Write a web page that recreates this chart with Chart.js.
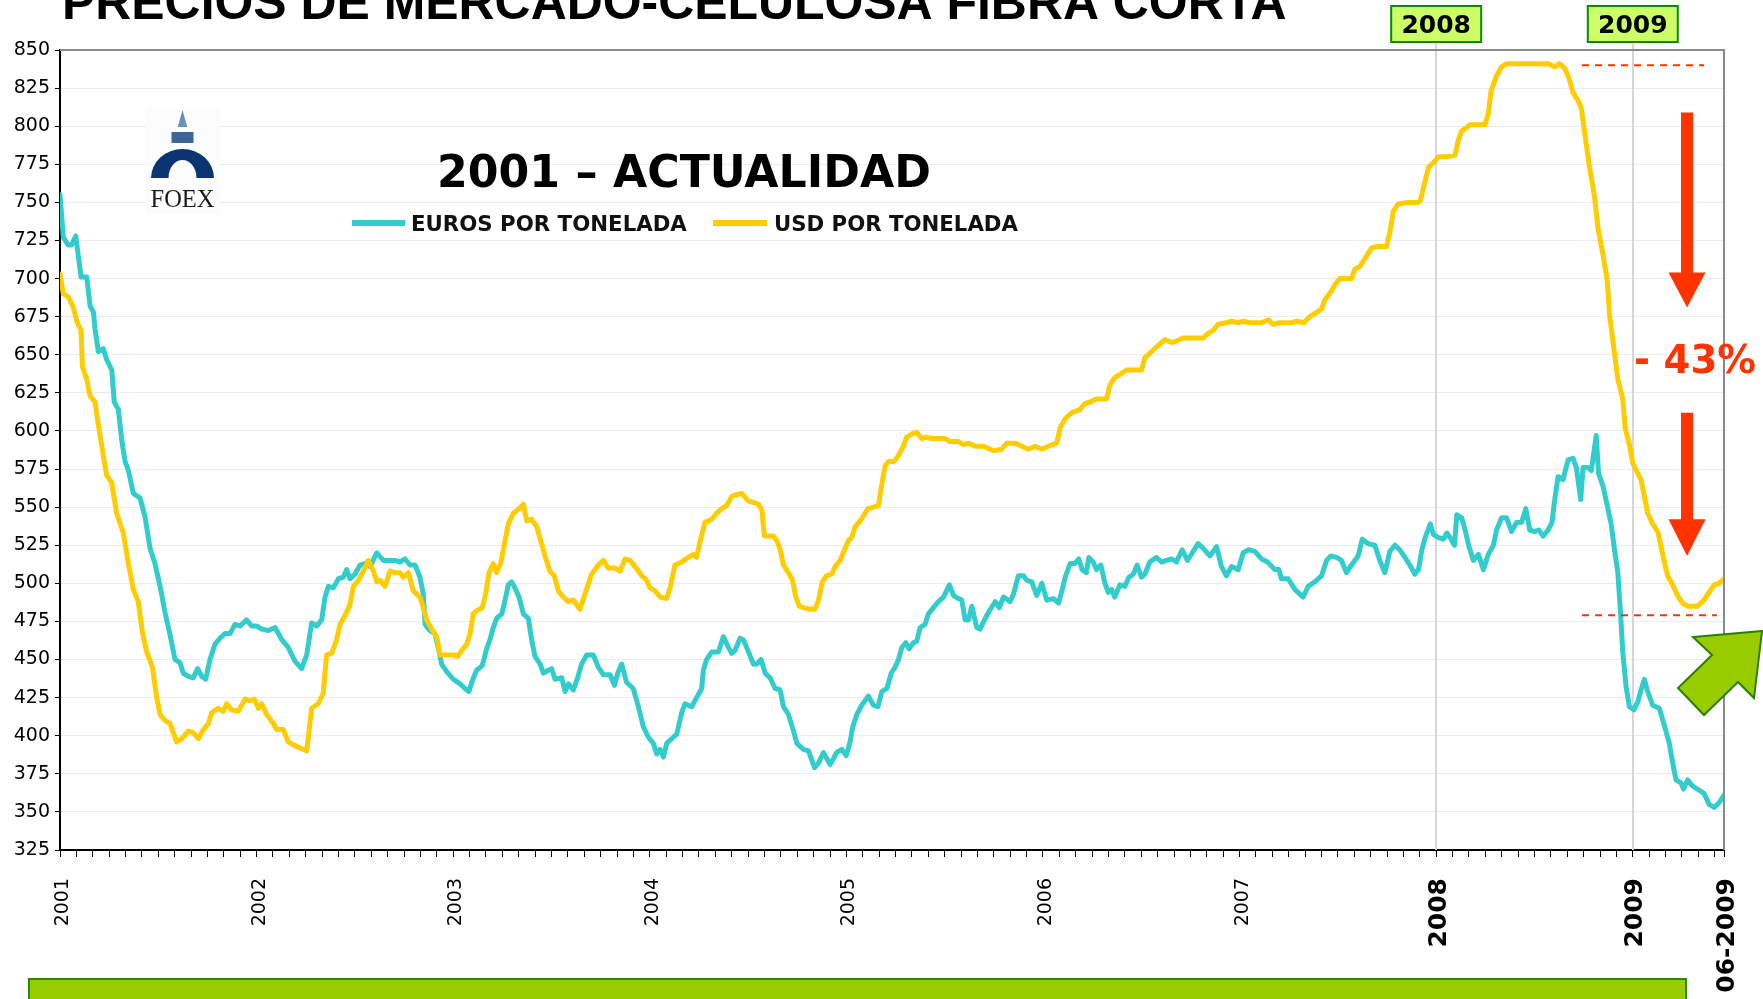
<!DOCTYPE html>
<html lang="es">
<head>
<meta charset="utf-8">
<title>Precios de mercado - celulosa fibra corta</title>
<script src="https://cdn.jsdelivr.net/npm/chart.js@4.4.1/dist/chart.umd.min.js"></script>
<style>
  html, body { margin: 0; padding: 0; background: #fff; }
  #wrap { width: 1763px; height: 999px; position: relative; overflow: hidden; }
</style>
</head>
<body>
<div id="wrap"><canvas id="celulosaChart" width="1763" height="999"></canvas></div>
<script>
const fechasEuro = [
  2001.000, 2001.017, 2001.042, 2001.059, 2001.080, 2001.093, 2001.107, 2001.136, 2001.153, 2001.170,
  2001.178, 2001.195, 2001.220, 2001.237, 2001.263, 2001.276, 2001.297, 2001.314, 2001.331, 2001.348,
  2001.373, 2001.407, 2001.432, 2001.458, 2001.483, 2001.509, 2001.534, 2001.560, 2001.585, 2001.610,
  2001.627, 2001.653, 2001.678, 2001.700, 2001.721, 2001.741, 2001.763, 2001.788, 2001.814, 2001.839,
  2001.865, 2001.890, 2001.916, 2001.949, 2001.975, 2002.000, 2002.026, 2002.060, 2002.094, 2002.128,
  2002.161, 2002.195, 2002.229, 2002.255, 2002.280, 2002.306, 2002.331, 2002.348, 2002.365, 2002.390,
  2002.416, 2002.441, 2002.458, 2002.475, 2002.501, 2002.526, 2002.551, 2002.577, 2002.611, 2002.645,
  2002.679, 2002.704, 2002.729, 2002.755, 2002.780, 2002.806, 2002.831, 2002.848, 2002.857, 2002.882,
  2002.907, 2002.924, 2002.941, 2002.967, 2003.001, 2003.035, 2003.060, 2003.080, 2003.097, 2003.119,
  2003.148, 2003.170, 2003.187, 2003.204, 2003.221, 2003.247, 2003.264, 2003.280, 2003.297, 2003.314,
  2003.335, 2003.357, 2003.382, 2003.399, 2003.416, 2003.442, 2003.459, 2003.484, 2003.501, 2003.518,
  2003.552, 2003.569, 2003.586, 2003.611, 2003.633, 2003.653, 2003.679, 2003.713, 2003.738, 2003.764,
  2003.798, 2003.820, 2003.837, 2003.857, 2003.882, 2003.916, 2003.942, 2003.967, 2003.993, 2004.018,
  2004.035, 2004.052, 2004.069, 2004.086, 2004.111, 2004.137, 2004.162, 2004.179, 2004.213, 2004.238,
  2004.264, 2004.272, 2004.289, 2004.315, 2004.349, 2004.374, 2004.400, 2004.417, 2004.434, 2004.459,
  2004.476, 2004.502, 2004.527, 2004.544, 2004.566, 2004.587, 2004.612, 2004.637, 2004.663, 2004.680,
  2004.705, 2004.731, 2004.748, 2004.782, 2004.807, 2004.838, 2004.858, 2004.883, 2004.917, 2004.951,
  2004.977, 2004.999, 2005.019, 2005.031, 2005.053, 2005.078, 2005.112, 2005.138, 2005.160, 2005.180,
  2005.206, 2005.228, 2005.248, 2005.265, 2005.282, 2005.302, 2005.319, 2005.341, 2005.358, 2005.375,
  2005.400, 2005.417, 2005.443, 2005.468, 2005.494, 2005.524, 2005.545, 2005.570, 2005.587, 2005.604,
  2005.621, 2005.638, 2005.663, 2005.680, 2005.706, 2005.723, 2005.757, 2005.777, 2005.799, 2005.833,
  2005.850, 2005.875, 2005.901, 2005.918, 2005.943, 2005.968, 2005.994, 2006.019, 2006.053, 2006.079,
  2006.096, 2006.113, 2006.138, 2006.163, 2006.182, 2006.199, 2006.221, 2006.233, 2006.255, 2006.272,
  2006.294, 2006.315, 2006.332, 2006.349, 2006.365, 2006.391, 2006.416, 2006.437, 2006.459, 2006.479,
  2006.501, 2006.518, 2006.543, 2006.577, 2006.603, 2006.628, 2006.654, 2006.679, 2006.708, 2006.735,
  2006.764, 2006.789, 2006.815, 2006.849, 2006.883, 2006.908, 2006.933, 2006.959, 2006.993, 2007.018,
  2007.044, 2007.078, 2007.111, 2007.142, 2007.179, 2007.200, 2007.213, 2007.247, 2007.281, 2007.323,
  2007.349, 2007.383, 2007.417, 2007.442, 2007.464, 2007.493, 2007.518, 2007.544, 2007.569, 2007.603,
  2007.624, 2007.654, 2007.688, 2007.713, 2007.739, 2007.764, 2007.790, 2007.815, 2007.841, 2007.866,
  2007.891, 2007.910, 2007.927, 2007.944, 2007.970, 2007.986, 2008.012, 2008.037, 2008.054, 2008.071,
  2008.093, 2008.105, 2008.130, 2008.147, 2008.167, 2008.189, 2008.215, 2008.240, 2008.265, 2008.291,
  2008.307, 2008.333, 2008.358, 2008.383, 2008.409, 2008.434, 2008.456, 2008.476, 2008.502, 2008.522,
  2008.544, 2008.569, 2008.589, 2008.603, 2008.620, 2008.645, 2008.671, 2008.696, 2008.713, 2008.735,
  2008.747, 2008.772, 2008.789, 2008.802, 2008.814, 2008.826, 2008.848, 2008.865, 2008.890, 2008.907,
  2008.924, 2008.937, 2008.949, 2008.966, 2008.983, 2009.005, 2009.025, 2009.042, 2009.059, 2009.076,
  2009.101, 2009.135, 2009.160, 2009.186, 2009.203, 2009.220, 2009.245, 2009.258, 2009.279, 2009.304,
  2009.329, 2009.363, 2009.388, 2009.414, 2009.439, 2009.464
];
const eurosPorTonelada = [
  755, 727, 722, 722, 728, 715, 701, 701, 682, 678,
  667, 652, 654, 647, 640, 619, 614, 594, 580, 574,
  559, 556, 544, 523, 513, 498, 481, 466, 450, 448,
  441, 439, 438, 444, 439, 437, 450, 460, 464, 467,
  467, 473, 472, 476, 472, 472, 470, 469, 471, 463,
  458, 449, 444, 453, 474, 472, 476, 491, 498, 497,
  503, 504, 509, 503, 506, 512, 513, 511, 520, 515,
  515, 515, 514, 516, 512, 512, 504, 493, 473, 469,
  467, 458, 447, 442, 437, 434, 431, 429, 436, 443,
  446, 457, 463, 471, 477, 480, 489, 499, 501, 497,
  491, 480, 477, 463, 452, 447, 441, 443, 444, 437,
  438, 429, 434, 430, 438, 447, 453, 453, 445, 440,
  440, 433, 441, 447, 435, 431, 419, 406, 399, 395,
  388, 391, 386, 395, 398, 401, 415, 421, 419, 425,
  431, 443, 450, 455, 455, 465, 458, 454, 456, 464,
  463, 455, 447, 447, 450, 441, 438, 431, 430, 419,
  414, 403, 395, 391, 390, 379, 382, 389, 381, 389,
  391, 387, 396, 405, 414, 420, 426, 420, 419, 429,
  431, 441, 445, 450, 458, 461, 457, 461, 462, 471,
  473, 480, 484, 488, 491, 499, 492, 490, 489, 476,
  476, 485, 471, 470, 477, 481, 488, 484, 491, 488,
  493, 505, 505, 502, 501, 492, 500, 489, 490, 487,
  495, 504, 513, 513, 516, 509, 507, 517, 514, 509,
  512, 500, 494, 496, 491, 499, 498, 504, 506, 512,
  504, 506, 514, 517, 514, 515, 516, 514, 522, 515,
  521, 526, 523, 518, 524, 511, 505, 511, 509, 520,
  522, 521, 516, 514, 509, 509, 503, 503, 496, 491,
  498, 501, 505, 515, 518, 517, 515, 507, 512, 518,
  529, 526, 525, 515, 507, 521, 525, 522, 517, 512,
  506, 509, 522, 530, 539, 532, 530, 529, 533, 530,
  525, 545, 543, 535, 524, 515, 519, 509, 519, 525,
  535, 543, 543, 534, 540, 540, 549, 535, 534, 535,
  531, 535, 540, 555, 570, 568, 581, 582, 576, 555,
  576, 576, 574, 586, 597, 572, 564, 554, 539, 522,
  507, 482, 455, 432, 419, 417, 422, 430, 437, 429,
  420, 418, 407, 395, 382, 371, 369, 365, 371, 367,
  365, 362, 355, 353, 356, 361
];

const fechasUsd = [
  2001.000, 2001.017, 2001.042, 2001.068, 2001.085, 2001.107, 2001.114, 2001.136, 2001.153, 2001.178,
  2001.195, 2001.220, 2001.237, 2001.263, 2001.288, 2001.322, 2001.348, 2001.373, 2001.398, 2001.419,
  2001.441, 2001.470, 2001.492, 2001.509, 2001.534, 2001.560, 2001.593, 2001.619, 2001.653, 2001.678,
  2001.704, 2001.729, 2001.755, 2001.771, 2001.805, 2001.831, 2001.848, 2001.873, 2001.907, 2001.941,
  2001.966, 2001.988, 2002.009, 2002.026, 2002.051, 2002.085, 2002.102, 2002.136, 2002.161, 2002.187,
  2002.221, 2002.255, 2002.280, 2002.314, 2002.339, 2002.356, 2002.382, 2002.407, 2002.424, 2002.450,
  2002.475, 2002.492, 2002.518, 2002.543, 2002.568, 2002.594, 2002.611, 2002.628, 2002.653, 2002.679,
  2002.704, 2002.729, 2002.746, 2002.772, 2002.797, 2002.831, 2002.848, 2002.865, 2002.891, 2002.916,
  2002.933, 2002.958, 2002.984, 2003.001, 2003.023, 2003.043, 2003.069, 2003.086, 2003.102, 2003.119,
  2003.148, 2003.165, 2003.182, 2003.204, 2003.221, 2003.243, 2003.264, 2003.280, 2003.306, 2003.335,
  2003.357, 2003.374, 2003.399, 2003.425, 2003.450, 2003.467, 2003.492, 2003.514, 2003.535, 2003.560,
  2003.586, 2003.611, 2003.645, 2003.670, 2003.704, 2003.738, 2003.764, 2003.789, 2003.823, 2003.849,
  2003.874, 2003.900, 2003.925, 2003.959, 2003.984, 2004.001, 2004.027, 2004.052, 2004.086, 2004.103,
  2004.128, 2004.162, 2004.196, 2004.221, 2004.238, 2004.255, 2004.281, 2004.315, 2004.340, 2004.366,
  2004.391, 2004.417, 2004.434, 2004.468, 2004.502, 2004.527, 2004.553, 2004.570, 2004.583, 2004.604,
  2004.629, 2004.646, 2004.663, 2004.680, 2004.705, 2004.726, 2004.743, 2004.760, 2004.782, 2004.815,
  2004.841, 2004.858, 2004.878, 2004.900, 2004.926, 2004.943, 2004.968, 2004.994, 2005.010, 2005.027,
  2005.044, 2005.070, 2005.095, 2005.109, 2005.138, 2005.163, 2005.180, 2005.197, 2005.214, 2005.244,
  2005.265, 2005.290, 2005.307, 2005.333, 2005.358, 2005.384, 2005.409, 2005.434, 2005.502, 2005.528,
  2005.570, 2005.595, 2005.621, 2005.655, 2005.697, 2005.748, 2005.790, 2005.816, 2005.858, 2005.892,
  2005.926, 2005.960, 2005.994, 2006.028, 2006.070, 2006.087, 2006.113, 2006.147, 2006.187, 2006.213,
  2006.238, 2006.272, 2006.323, 2006.340, 2006.365, 2006.391, 2006.425, 2006.501, 2006.518, 2006.543,
  2006.577, 2006.620, 2006.654, 2006.679, 2006.713, 2006.815, 2006.840, 2006.866, 2006.891, 2006.933,
  2006.959, 2006.993, 2007.018, 2007.052, 2007.111, 2007.145, 2007.171, 2007.205, 2007.264, 2007.289,
  2007.328, 2007.357, 2007.383, 2007.417, 2007.434, 2007.468, 2007.485, 2007.510, 2007.569, 2007.586,
  2007.612, 2007.637, 2007.671, 2007.696, 2007.747, 2007.764, 2007.781, 2007.807, 2007.857, 2007.908,
  2007.919, 2007.936, 2007.961, 2007.986, 2008.012, 2008.054, 2008.096, 2008.113, 2008.130, 2008.155,
  2008.172, 2008.248, 2008.265, 2008.279, 2008.307, 2008.333, 2008.358, 2008.569, 2008.603, 2008.628,
  2008.654, 2008.674, 2008.696, 2008.721, 2008.738, 2008.755, 2008.780, 2008.806, 2008.823, 2008.848,
  2008.870, 2008.882, 2008.899, 2008.924, 2008.949, 2008.961, 2008.983, 2009.000, 2009.022, 2009.042,
  2009.059, 2009.076, 2009.101, 2009.127, 2009.152, 2009.177, 2009.203, 2009.228, 2009.253, 2009.279,
  2009.329, 2009.363, 2009.388, 2009.414, 2009.439, 2009.464
];
const usdPorTonelada = [
  703, 690, 688, 681, 672, 666, 642, 634, 623, 619,
  604, 584, 571, 566, 546, 533, 513, 496, 488, 468,
  455, 445, 425, 414, 410, 408, 396, 398, 403, 402,
  398, 404, 408, 415, 418, 416, 421, 417, 416, 424,
  423, 424, 418, 421, 414, 408, 404, 404, 396, 394,
  392, 390, 418, 421, 428, 453, 454, 463, 473, 479,
  486, 498, 502, 508, 515, 508, 501, 502, 498, 508,
  507, 507, 504, 507, 495, 491, 484, 476, 470, 465,
  453, 453, 453, 453, 452, 456, 460, 467, 480, 482,
  484, 493, 507, 513, 507, 514, 528, 539, 546, 549,
  552, 541, 542, 537, 526, 518, 508, 505, 495, 491,
  488, 489, 483, 493, 506, 512, 515, 510, 510, 508,
  516, 515, 511, 505, 502, 497, 495, 491, 490, 497,
  512, 514, 517, 519, 517, 527, 540, 542, 546, 549,
  551, 557, 558, 559, 554, 553, 552, 548, 531, 531,
  531, 528, 522, 512, 507, 502, 491, 485, 484, 483,
  483, 489, 501, 505, 506, 511, 515, 523, 528, 530,
  537, 541, 546, 549, 550, 551, 565, 577, 580, 580,
  584, 590, 596, 598, 599, 595, 596, 595, 595, 593,
  593, 591, 592, 590, 590, 587, 588, 592, 592, 590,
  588, 590, 588, 590, 592, 602, 608, 612, 614, 618,
  619, 621, 621, 630, 635, 637, 640, 640, 648, 651,
  655, 660, 658, 659, 661, 661, 664, 666, 670, 671,
  672, 671, 672, 671, 671, 673, 670, 671, 671, 672,
  671, 675, 677, 680, 686, 692, 696, 700, 700, 706,
  708, 713, 720, 721, 721, 730, 744, 749, 750, 750,
  751, 760, 773, 776, 780, 780, 781, 791, 797, 799,
  801, 801, 808, 823, 833, 839, 841, 841, 839, 841,
  838, 832, 822, 817, 812, 796, 773, 753, 733, 716,
  699, 676, 659, 634, 621, 602, 591, 579, 573, 568,
  557, 546, 539, 534, 519, 505, 499, 492, 487, 485,
  485, 489, 494, 499, 500, 503
];

// ejes
const anios = [2001, 2002, 2003, 2004, 2005, 2006, 2007, 2008, 2009];
const aniosDestacados = [2008, 2009];
const fechaFinal = 2009.464;
const etiquetaFinal = '06-2009';
const yMin = 325, yMax = 850, yPaso = 25;

const TEAL = '#33cccc';
const AMARILLO = '#ffcc00';
const ROJO = '#ff3300';

function fitFont(ctx, text, family, weight, width) {
  ctx.font = weight + ' 100px "' + family + '"';
  const w = ctx.measureText(text).width;
  return weight + ' ' + (100 * width / w).toFixed(2) + 'px "' + family + '"';
}

function flechaAbajo(ctx, cx, yTop, yHead, yTip, shaftW, headW) {
  ctx.beginPath();
  ctx.moveTo(cx - shaftW / 2, yTop);
  ctx.lineTo(cx + shaftW / 2, yTop);
  ctx.lineTo(cx + shaftW / 2, yHead);
  ctx.lineTo(cx + headW / 2, yHead);
  ctx.lineTo(cx, yTip);
  ctx.lineTo(cx - headW / 2, yHead);
  ctx.lineTo(cx - shaftW / 2, yHead);
  ctx.closePath();
  ctx.fill();
}

const decoracion = {
  id: 'decoracion',
  beforeDatasetsDraw(chart) {
    const { ctx, chartArea: a, scales: { x } } = chart;
    ctx.save();
    ctx.strokeStyle = '#d6d6d6';
    ctx.lineWidth = 2;
    aniosDestacados.forEach(an => {
      const px = Math.round(x.getPixelForValue(an));
      ctx.beginPath();
      ctx.moveTo(px, 40);
      ctx.lineTo(px, a.bottom);
      ctx.stroke();
    });
    ctx.restore();
  },
  afterDraw(chart) {
    const { ctx, chartArea: a, scales: { x, y } } = chart;
    ctx.save();

    // marco superior y derecho
    ctx.strokeStyle = '#8a8a8a';
    ctx.lineWidth = 2;
    ctx.beginPath();
    ctx.moveTo(a.left, a.top);
    ctx.lineTo(a.right, a.top);
    ctx.lineTo(a.right, a.bottom);
    ctx.stroke();

    // titulo
    ctx.fillStyle = '#000';
    ctx.textBaseline = 'alphabetic';
    ctx.textAlign = 'left';
    const titulo = 'PRECIOS DE MERCADO-CELULOSA FIBRA CORTA';
    ctx.font = fitFont(ctx, titulo, 'Liberation Sans', 'bold', 1225);
    ctx.fillText(titulo, 62, 19);

    const sub = '2001 \u2013 ACTUALIDAD';
    ctx.font = fitFont(ctx, sub, 'DejaVu Sans', 'bold', 494);
    ctx.fillText(sub, 437, 187);

    // leyenda
    ctx.lineWidth = 6;
    ctx.strokeStyle = TEAL;
    ctx.beginPath(); ctx.moveTo(352, 223); ctx.lineTo(405, 223); ctx.stroke();
    ctx.strokeStyle = AMARILLO;
    ctx.beginPath(); ctx.moveTo(713, 223); ctx.lineTo(767, 223); ctx.stroke();
    ctx.fillStyle = '#111';
    ctx.font = fitFont(ctx, 'EUROS POR TONELADA', 'DejaVu Sans', 'bold', 276);
    ctx.fillText('EUROS POR TONELADA', 411, 231);
    ctx.font = fitFont(ctx, 'USD POR TONELADA', 'DejaVu Sans', 'bold', 244);
    ctx.fillText('USD POR TONELADA', 774, 231);

    // logo FOEX
    const lx = 182.5;
    ctx.fillStyle = '#fcfcfc';
    ctx.fillRect(146, 108, 74, 106);
    ctx.fillStyle = '#6b8fbd';
    ctx.beginPath();
    ctx.moveTo(lx, 110); ctx.lineTo(lx + 4.8, 127); ctx.lineTo(lx - 4.8, 127);
    ctx.closePath(); ctx.fill();
    ctx.fillStyle = '#3e6597';
    ctx.fillRect(lx - 11, 132, 22, 11);
    ctx.fillStyle = '#0b3572';
    ctx.beginPath();
    ctx.ellipse(lx, 178, 31.5, 29, 0, Math.PI, 2 * Math.PI);
    ctx.lineTo(lx + 14, 178);
    ctx.ellipse(lx, 178, 14, 18, 0, 0, Math.PI, true);
    ctx.closePath();
    ctx.fill();
    ctx.fillStyle = '#1a1a1a';
    ctx.textAlign = 'center';
    ctx.font = fitFont(ctx, 'FOEX', 'Liberation Serif', 'normal', 64);
    ctx.fillText('FOEX', lx, 207);

    // cajas de año
    aniosDestacados.forEach(an => {
      const px = x.getPixelForValue(an);
      ctx.fillStyle = '#ccff66';
      ctx.fillRect(px - 45, 6, 90, 36);
      ctx.strokeStyle = '#0a8a0a';
      ctx.lineWidth = 2;
      ctx.strokeRect(px - 45, 6, 90, 36);
      ctx.fillStyle = '#000';
      ctx.font = 'bold 25px "DejaVu Sans"';
      ctx.textAlign = 'center';
      ctx.fillText(String(an), px, 33);
    });

    // lineas rojas punteadas
    ctx.strokeStyle = ROJO;
    ctx.lineWidth = 2;
    ctx.setLineDash([7, 6]);
    ctx.beginPath();
    ctx.moveTo(x.getPixelForValue(2008.742), y.getPixelForValue(840));
    ctx.lineTo(x.getPixelForValue(2009.362), y.getPixelForValue(840));
    ctx.moveTo(x.getPixelForValue(2008.742), y.getPixelForValue(479));
    ctx.lineTo(x.getPixelForValue(2009.428), y.getPixelForValue(479));
    ctx.stroke();
    ctx.setLineDash([]);

    // flechas rojas
    ctx.fillStyle = ROJO;
    const fx = x.getPixelForValue(2009.276);
    flechaAbajo(ctx, fx, y.getPixelForValue(809), y.getPixelForValue(704), y.getPixelForValue(681), 12, 37);
    flechaAbajo(ctx, fx, y.getPixelForValue(612), y.getPixelForValue(542), y.getPixelForValue(518), 12, 37);

    ctx.textAlign = 'left';
    ctx.font = fitFont(ctx, '- 43%', 'DejaVu Sans', 'bold', 122);
    ctx.fillText('- 43%', 1634, y.getPixelForValue(638));

    // flecha verde
    const r = a.right;
    ctx.fillStyle = '#99cc00';
    ctx.strokeStyle = '#2a7f00';
    ctx.lineWidth = 2;
    ctx.beginPath();
    ctx.moveTo(r + 38, 631);
    ctx.lineTo(r - 31, 637);
    ctx.lineTo(r - 12, 655);
    ctx.lineTo(r - 46, 688);
    ctx.lineTo(r - 20, 715);
    ctx.lineTo(r + 14, 682);
    ctx.lineTo(r + 30, 698);
    ctx.closePath();
    ctx.fill();
    ctx.stroke();

    // barra verde inferior
    ctx.fillStyle = '#99cc00';
    ctx.fillRect(29, 979, 1657, 24);
    ctx.strokeStyle = '#2a8a00';
    ctx.strokeRect(29, 979, 1657, 24);

    ctx.restore();
  }
};

function fuenteX(c) {
  const v = c.tick ? c.tick.value : 0;
  if (v > 2007.5) return { family: 'DejaVu Sans', size: 25, weight: 'bold' };
  return { family: 'DejaVu Sans', size: 19, weight: 'normal' };
}

document.addEventListener('DOMContentLoaded', function () {
  const ctx = document.getElementById('celulosaChart').getContext('2d');
  const euros = fechasEuro.map((f, i) => ({ x: f, y: eurosPorTonelada[i] }));
  const usd = fechasUsd.map((f, i) => ({ x: f, y: usdPorTonelada[i] }));

  new Chart(ctx, {
    type: 'line',
    data: {
      datasets: [
        { label: 'USD POR TONELADA', data: usd, borderColor: AMARILLO, borderWidth: 5,
          pointRadius: 0, tension: 0, borderJoinStyle: 'round', borderCapStyle: 'round', order: 0 },
        { label: 'EUROS POR TONELADA', data: euros, borderColor: TEAL, borderWidth: 5,
          pointRadius: 0, tension: 0, borderJoinStyle: 'round', borderCapStyle: 'round', order: 1 }
      ]
    },
    options: {
      responsive: false,
      animation: false,
      devicePixelRatio: 1,
      layout: { padding: { top: 50, right: 39, left: 0, bottom: 0 } },
      plugins: { legend: { display: false }, tooltip: { enabled: false } },
      scales: {
        x: {
          type: 'linear',
          min: anios[0],
          max: fechaFinal,
          afterBuildTicks(scale) {
            const ticks = [];
            for (let m = 0; anios[0] + m / 12 < fechaFinal - 0.01; m++) ticks.push({ value: anios[0] + m / 12 });
            ticks.push({ value: fechaFinal });
            scale.ticks = ticks;
          },
          afterFit(scale) {
            scale.height = 149;
            scale.paddingLeft = 0;
            scale.paddingRight = 0;
          },
          border: { display: true, color: '#000', width: 2 },
          grid: { drawOnChartArea: false, drawTicks: true, tickLength: 7, tickColor: '#000', color: '#000' },
          ticks: {
            autoSkip: false,
            minRotation: 90,
            maxRotation: 90,
            padding: 21,
            labelOffset: 3,
            color: '#000',
            font: fuenteX,
            callback(v) {
              if (Math.abs(v - fechaFinal) < 1e-6) return etiquetaFinal;
              const r = Math.round(v);
              return Math.abs(v - r) < 1e-6 && anios.includes(r) ? String(r) : '';
            }
          }
        },
        y: {
          min: yMin,
          max: yMax,
          afterFit(scale) { scale.width = 60; },
          border: { display: true, color: '#000', width: 2 },
          grid: { color: '#ececec', lineWidth: 1, tickLength: 5, tickColor: '#000' },
          ticks: {
            stepSize: yPaso,
            padding: 5,
            color: '#000',
            font: { family: 'DejaVu Sans', size: 19 }
          }
        }
      }
    },
    plugins: [decoracion]
  });
});
</script>
</body>
</html>
